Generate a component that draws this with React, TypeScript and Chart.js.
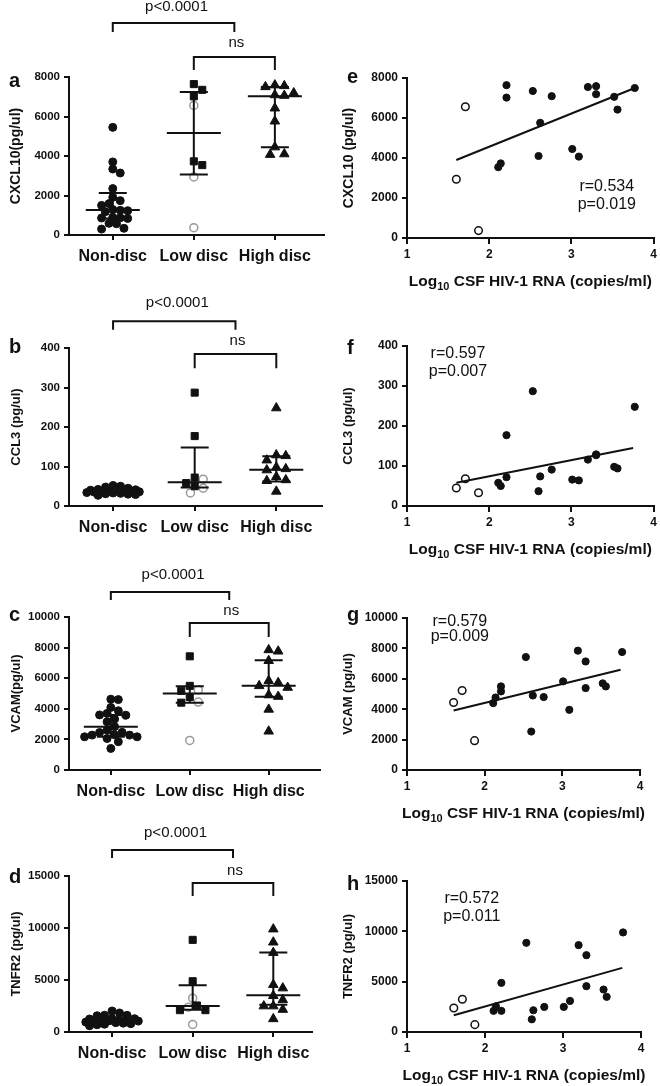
import React, { useEffect, useRef } from "react";
import { Chart, registerables } from "chart.js";
Chart.register(...registerables);

// ---------------- DATA ----------------
const categories = ["Non-disc", "Low disc", "High disc"];
const xTitleParts = ["Log", "10", " CSF HIV-1 RNA (copies/ml)"];

// CSF patients: index 0-7 low discordance, 8-18 high discordance; first 3 drawn as open circles
const csfLog10RNA = [1.60, 1.71, 1.87, 2.11, 2.14, 2.21, 2.21, 2.53, 2.60, 2.62, 2.76, 3.01, 3.09, 3.20, 3.30, 3.30, 3.52, 3.56, 3.77];
const discGroup = ["L", "L", "L", "L", "L", "L", "L", "L", "H", "H", "H", "H", "H", "H", "H", "H", "H", "H", "H"];
const openCircle = [true, true, true, false, false, false, false, false, false, false, false, false, false, false, false, false, false, false, false];

const cxcl10Disc = [2940, 6560, 370, 3540, 3730, 7640, 7020, 7350, 4100, 5760, 7090, 4450, 4070, 7550, 7590, 7190, 7060, 6420, 7500];
const ccl3Disc = [45, 68, 33, 58, 50, 177, 72, 287, 37, 74, 91, 66, 64, 116, 129, 127, 98, 94, 248];
const vcamDisc = [4440, 5230, 1930, 4400, 4770, 5500, 5170, 7430, 2530, 4900, 4800, 5830, 3960, 7850, 7140, 5390, 5700, 5500, 7760];
const tnfr2Disc = [2390, 3250, 730, 2100, 2550, 4880, 2100, 8860, 1260, 2160, 2490, 2490, 3090, 8630, 7630, 4550, 4220, 3490, 9890];

const cxcl10NonDisc = [5450, 3700, 3340, 3140, 2350, 1910, 1740, 1590, 1500, 1290, 1250, 1230, 1180, 900, 870, 860, 840, 590, 570, 340, 300];
const ccl3NonDisc = [52, 50, 48, 45, 42, 41, 40, 39, 38, 38, 37, 37, 36, 35, 34, 33, 32, 31, 30, 29, 27];
const vcamNonDisc = [4630, 4600, 4090, 3870, 3700, 3600, 3580, 3330, 3150, 2830, 2610, 2460, 2450, 2300, 2280, 2280, 2170, 2170, 2060, 1850, 1410];
const tnfr2NonDisc = [2020, 1830, 1610, 1600, 1560, 1290, 1280, 1250, 1180, 1150, 1100, 1080, 1050, 1000, 950, 900, 850, 800, 750, 700, 600];

// [median, q1, q3] for Non-disc, Low disc, High disc
const cxcl10Summary = [[1270, 830, 2130], [5170, 3060, 7240], [7020, 4440, 7490]];
const ccl3Summary = [[37, 33, 40], [60, 47, 148], [92, 62, 126]];
const vcamSummary = [[2830, 2170, 3590], [5000, 4390, 5480], [5500, 4780, 7170]];
const tnfr2Summary = [[1060, 800, 1380], [2500, 2150, 4500], [3530, 2630, 7650]];

// regression line end points [x1, x2], [y1, y2]
const cxcl10FitX = [1.6, 3.77];
const cxcl10FitY = [3900, 7500];
const ccl3FitX = [1.6, 3.75];
const ccl3FitY = [58, 145];
const vcamFitX = [1.6, 3.75];
const vcamFitY = [3910, 6590];
const tnfr2FitX = [1.6, 3.76];
const tnfr2FitY = [1660, 6370];

const statLabels = [
  ["r=0.534", "p=0.019"],
  ["r=0.597", "p=0.007"],
  ["r=0.579", "p=0.009"],
  ["r=0.572", "p=0.011"],
];
const pLabel = "p<0.0001";
const nsLabel = "ns";

// ---------------- STYLE ----------------
const FONT = "'Liberation Sans', Arial, Helvetica, sans-serif";
const INK = "#111111";
const GREY = "#9a9a9a";

type Box = { left: number; top: number; width: number; height: number };

const leftPanels = [
  {
    letter: "a", letterDy: 10, yTitle: "CXCL10(pg/ul)", titleSize: 14, nonDisc: cxcl10NonDisc, disc: cxcl10Disc,
    yMax: 8000, yStep: 2000, summary: cxcl10Summary,
    box: { left: 0, top: 0, width: 330, height: 270 }, area: { left: 69, top: 77, bottom: 235, right: 325 },
    xMin: -0.54, xMax: 2.6,
    ann: { pText: 11544, pBar: 10734, pDrop: 10278, nsText: 9721, nsBar: 9012, nsDrop: 8354, pEnd: 1.5 },
  },
  {
    letter: "b", letterDy: 5, yTitle: "CCL3 (pg/ul)", titleSize: 13, nonDisc: ccl3NonDisc, disc: ccl3Disc,
    yMax: 400, yStep: 100, summary: ccl3Summary,
    box: { left: 0, top: 290, width: 330, height: 270 }, area: { left: 69, top: 348, bottom: 506, right: 322 },
    xMin: -0.54, xMax: 2.56,
    ann: { pText: 514, pBar: 468, pDrop: 446, nsText: 418, nsBar: 385, nsDrop: 349, pEnd: 1.5 },
  },
  {
    letter: "c", letterDy: 4, yTitle: "VCAM(pg/ul)", titleSize: 13, nonDisc: vcamNonDisc, disc: vcamDisc,
    yMax: 10000, yStep: 2000, summary: vcamSummary,
    box: { left: 0, top: 560, width: 330, height: 245 }, area: { left: 69, top: 617, bottom: 770, right: 320 },
    xMin: -0.53, xMax: 2.65,
    ann: { pText: 12745, pBar: 11634, pDrop: 11111, nsText: 10392, nsBar: 9608, nsDrop: 8693, pEnd: 1.5 },
  },
  {
    letter: "d", letterDy: 7, yTitle: "TNFR2 (pg/ul)", titleSize: 13, nonDisc: tnfr2NonDisc, disc: tnfr2Disc,
    yMax: 15000, yStep: 5000, summary: tnfr2Summary,
    box: { left: 0, top: 820, width: 330, height: 266 }, area: { left: 69, top: 876, bottom: 1032, right: 312 },
    xMin: -0.534, xMax: 2.48,
    ann: { pText: 19135, pBar: 17500, pDrop: 16731, nsText: 15481, nsBar: 14327, nsDrop: 13077, pEnd: 1.5 },
  },
];

const rightPanels = [
  {
    letter: "e", letterDy: 5, yTitle: "CXCL10 (pg/ul)", titleSize: 14, values: cxcl10Disc, fitX: cxcl10FitX, fitY: cxcl10FitY,
    yMax: 8000, yStep: 2000, stats: statLabels[0], stat: { x: 3.43, r: 2550, p: 1650 },
    box: { left: 330, top: 60, width: 330, height: 240 }, area: { left: 407, top: 78, bottom: 238, right: 655 },
  },
  {
    letter: "f", letterDy: 8, yTitle: "CCL3 (pg/ul)", titleSize: 13, values: ccl3Disc, fitX: ccl3FitX, fitY: ccl3FitY,
    yMax: 400, yStep: 100, stats: statLabels[1], stat: { x: 1.62, r: 382, p: 335 },
    box: { left: 330, top: 320, width: 330, height: 245 }, area: { left: 407, top: 346, bottom: 506, right: 655 },
  },
  {
    letter: "g", letterDy: 3, yTitle: "VCAM (pg/ul)", titleSize: 13, values: vcamDisc, fitX: vcamFitX, fitY: vcamFitY,
    yMax: 10000, yStep: 2000, stats: statLabels[2], stat: { x: 1.68, r: 9737, p: 8750 },
    box: { left: 330, top: 590, width: 330, height: 235 }, area: { left: 407, top: 618, bottom: 770, right: 640 },
  },
  {
    letter: "h", letterDy: 9, yTitle: "TNFR2 (pg/ul)", titleSize: 13, values: tnfr2Disc, fitX: tnfr2FitX, fitY: tnfr2FitY,
    yMax: 15000, yStep: 5000, stats: statLabels[3], stat: { x: 1.83, r: 13212, p: 11424 },
    box: { left: 330, top: 860, width: 330, height: 226 }, area: { left: 407, top: 881, bottom: 1032, right: 641 },
  },
];

// simple beeswarm layout with a maximum half-width: returns horizontal pixel offsets
function swarmOffsets(values: number[], pxPerY: number, diam: number, maxHalf: number): number[] {
  const order = values.map((_, i) => i).sort((a, b) => values[b] - values[a]);
  const placed: { x: number; y: number }[] = [];
  const out = new Array(values.length).fill(0);
  const step = diam * 0.5;
  for (const i of order) {
    const py = values[i] * pxPerY;
    let best = 0, bestD = -1, done = false;
    for (let k = 0; k < 200; k++) {
      const cx = k === 0 ? 0 : (k % 2 ? 1 : -1) * Math.ceil(k / 2) * step;
      if (Math.abs(cx) > maxHalf) break;
      let minD = Infinity;
      for (const p of placed) minD = Math.min(minD, Math.hypot(p.x - cx, p.y - py));
      if (minD >= diam * 0.92) {
        best = cx; done = true;
        break;
      }
      if (minD > bestD) { bestD = minD; best = cx; }
    }
    void done;
    out[i] = best;
    placed.push({ x: best, y: py });
  }
  return out;
}

function axisCommon(size: number, padding: number, tickLength: number) {
  return {
    ticks: { font: { family: FONT, size, weight: "bold" as const }, color: INK, padding, autoSkip: false, maxRotation: 0 },
    grid: { display: true, drawOnChartArea: false, drawTicks: true, tickLength, tickWidth: 2, tickColor: INK, color: INK, lineWidth: 2 },
    border: { display: true, color: INK, width: 2 },
  };
}

function yAxis(p: any, size: number) {
  const c = axisCommon(size, 4, 5);
  return {
    type: "linear" as const,
    min: 0,
    max: p.yMax,
    ticks: { ...c.ticks, stepSize: p.yStep, callback: (v: any) => String(v) },
    grid: c.grid,
    border: c.border,
    title: { display: true, text: p.yTitle, color: INK, font: { family: FONT, size: p.titleSize, weight: "bold" as const }, padding: { top: p.titlePad, bottom: 0 } },
    afterFit: (s: any) => {
      s.width = p.area.left - p.box.left;
    },
  };
}

function drawLetter(ctx: CanvasRenderingContext2D, chart: any, letter: string, dy: number) {
  ctx.save();
  ctx.fillStyle = INK;
  ctx.font = `bold 20px ${FONT}`;
  ctx.textAlign = "left";
  ctx.textBaseline = "alphabetic";
  ctx.fillText(letter, chart.chartArea.left - 60, chart.chartArea.top + dy);
  ctx.restore();
}

function buildLeft(p: any) {
  const { area } = p;
  const pxX = (area.right - area.left) / (p.xMax - p.xMin);
  const pxY = (area.bottom - area.top) / p.yMax;
  const nonOff = swarmOffsets(p.nonDisc, pxY, 7.5, 27);
  const lowIdx = discGroup.map((g, i) => (g === "L" ? i : -1)).filter((i) => i >= 0);
  const highIdx = discGroup.map((g, i) => (g === "H" ? i : -1)).filter((i) => i >= 0);
  const lowOff = swarmOffsets(lowIdx.map((i) => p.disc[i]), pxY, 8.5, 24);
  const highOff = swarmOffsets(highIdx.map((i) => p.disc[i]), pxY, 9.5, 24);
  const lowPts = lowIdx.map((i, k) => ({ x: 1 + lowOff[k] / pxX, y: p.disc[i], open: openCircle[i] }));
  const highPts = highIdx.map((i, k) => ({ x: 2 + highOff[k] / pxX, y: p.disc[i] }));

  const annotate = {
    id: "annotate" + p.letter,
    afterDatasetsDraw(chart: any) {
      const ctx = chart.ctx as CanvasRenderingContext2D;
      const xs = chart.scales.x, ys = chart.scales.y;
      ctx.save();
      ctx.strokeStyle = INK;
      ctx.lineWidth = 2;
      p.summary.forEach((s: number[], k: number) => {
        const [med, q1, q3] = s;
        const cx = xs.getPixelForValue(k);
        ctx.beginPath();
        ctx.moveTo(cx, ys.getPixelForValue(q1));
        ctx.lineTo(cx, ys.getPixelForValue(q3));
        ctx.moveTo(cx - 27, ys.getPixelForValue(med));
        ctx.lineTo(cx + 27, ys.getPixelForValue(med));
        ctx.moveTo(cx - 14, ys.getPixelForValue(q1));
        ctx.lineTo(cx + 14, ys.getPixelForValue(q1));
        ctx.moveTo(cx - 14, ys.getPixelForValue(q3));
        ctx.lineTo(cx + 14, ys.getPixelForValue(q3));
        ctx.stroke();
      });
      ctx.restore();
    },
    afterDraw(chart: any) {
      const ctx = chart.ctx as CanvasRenderingContext2D;
      const xs = chart.scales.x, ys = chart.scales.y;
      const X = (v: number) => xs.getPixelForValue(v);
      const Y = (v: number) => ys.getPixelForValue(v);
      const a = p.ann;
      ctx.save();
      ctx.strokeStyle = INK;
      ctx.lineWidth = 2;
      ctx.beginPath();
      ctx.moveTo(X(0), Y(a.pDrop));
      ctx.lineTo(X(0), Y(a.pBar));
      ctx.lineTo(X(a.pEnd), Y(a.pBar));
      ctx.lineTo(X(a.pEnd), Y(a.pDrop));
      ctx.moveTo(X(1), Y(a.nsDrop));
      ctx.lineTo(X(1), Y(a.nsBar));
      ctx.lineTo(X(2), Y(a.nsBar));
      ctx.lineTo(X(2), Y(a.nsDrop));
      ctx.stroke();
      ctx.fillStyle = INK;
      ctx.font = `15px ${FONT}`;
      ctx.textAlign = "center";
      ctx.textBaseline = "middle";
      ctx.fillText(pLabel, (X(0) + X(a.pEnd)) / 2 + 3, Y(a.pText));
      ctx.fillText(nsLabel, (X(1) + X(2)) / 2 + 2, Y(a.nsText));
      ctx.restore();
      drawLetter(ctx, chart, p.letter, p.letterDy);
    },
  };

  const xc = axisCommon(16, 7, 5);
  return {
    type: "scatter" as const,
    data: {
      datasets: [
        {
          data: p.nonDisc.map((v: number, i: number) => ({ x: nonOff[i] / pxX, y: v })),
          pointStyle: "circle", pointRadius: 4, backgroundColor: INK, borderColor: INK, borderWidth: 1, clip: false,
        },
        {
          data: lowPts.filter((d) => !d.open).map((d) => ({ x: d.x, y: d.y })),
          pointStyle: "rect", pointRadius: 5, backgroundColor: INK, borderColor: INK, borderWidth: 1, clip: false,
        },
        {
          data: lowPts.filter((d) => d.open).map((d) => ({ x: d.x, y: d.y })),
          pointStyle: "circle", pointRadius: 4, backgroundColor: "#ffffff", borderColor: GREY, borderWidth: 1.5, clip: false,
        },
        {
          data: highPts,
          pointStyle: "triangle", pointRadius: 5.5, backgroundColor: INK, borderColor: INK, borderWidth: 1, clip: false,
        },
      ],
    },
    options: {
      responsive: false,
      animation: false as const,
      events: [],
      layout: { padding: { top: area.top - p.box.top, right: p.box.left + p.box.width - area.right, left: 0, bottom: 0 } },
      plugins: { legend: { display: false }, tooltip: { enabled: false } },
      scales: {
        x: {
          type: "linear" as const,
          min: p.xMin,
          max: p.xMax,
          afterBuildTicks: (s: any) => {
            s.ticks = [0, 1, 2].map((v) => ({ value: v }));
          },
          ticks: { ...xc.ticks, callback: (v: any) => categories[v as number] ?? "" },
          grid: xc.grid,
          border: xc.border,
          afterFit: (s: any) => {
            s.height = p.box.top + p.box.height - area.bottom;
          },
        },
        y: yAxis({ ...p, titlePad: p.titleSize === 14 ? 8 : 9 }, 11.5),
      },
    },
    plugins: [annotate],
  };
}

function buildRight(p: any) {
  const { area } = p;
  const pts = csfLog10RNA.map((x, i) => ({ x, y: p.values[i], open: openCircle[i] }));
  const annotate = {
    id: "annotate" + p.letter,
    afterDraw(chart: any) {
      const ctx = chart.ctx as CanvasRenderingContext2D;
      const xs = chart.scales.x, ys = chart.scales.y;
      ctx.save();
      ctx.fillStyle = INK;
      ctx.font = `16px ${FONT}`;
      ctx.textAlign = "center";
      ctx.textBaseline = "middle";
      ctx.fillText(p.stats[0], xs.getPixelForValue(p.stat.x), ys.getPixelForValue(p.stat.r));
      ctx.fillText(p.stats[1], xs.getPixelForValue(p.stat.x), ys.getPixelForValue(p.stat.p));
      // x-axis title with subscript
      const big = `bold 15.5px ${FONT}`, small = `bold 11px ${FONT}`;
      const parts: [string, string, number][] = [
        [xTitleParts[0], big, 0],
        [xTitleParts[1], small, 5],
        [xTitleParts[2], big, 0],
      ];
      ctx.textAlign = "left";
      let total = 0;
      for (const [t, f] of parts) {
        ctx.font = f;
        total += ctx.measureText(t).width;
      }
      let x = (chart.chartArea.left + chart.chartArea.right) / 2 - total / 2;
      const cy = chart.chartArea.bottom + 44;
      for (const [t, f, dy] of parts) {
        ctx.font = f;
        ctx.fillText(t, x, cy + dy);
        x += ctx.measureText(t).width;
      }
      ctx.restore();
      drawLetter(ctx, chart, p.letter, p.letterDy);
    },
  };
  const xc = axisCommon(12, 3, 6);
  return {
    type: "scatter" as const,
    data: {
      datasets: [
        {
          data: [
            { x: p.fitX[0], y: p.fitY[0] },
            { x: p.fitX[1], y: p.fitY[1] },
          ],
          showLine: true, pointRadius: 0, borderColor: INK, borderWidth: 2, clip: false,
        },
        {
          data: pts.filter((d) => !d.open).map((d) => ({ x: d.x, y: d.y })),
          pointStyle: "circle", pointRadius: 3.6, backgroundColor: INK, borderColor: INK, borderWidth: 1, clip: false,
        },
        {
          data: pts.filter((d) => d.open).map((d) => ({ x: d.x, y: d.y })),
          pointStyle: "circle", pointRadius: 3.8, backgroundColor: "#ffffff", borderColor: INK, borderWidth: 1.5, clip: false,
        },
      ],
    },
    options: {
      responsive: false,
      animation: false as const,
      events: [],
      layout: { padding: { top: area.top - p.box.top, right: p.box.left + p.box.width - area.right, left: 0, bottom: 0 } },
      plugins: { legend: { display: false }, tooltip: { enabled: false } },
      scales: {
        x: {
          type: "linear" as const,
          min: 1,
          max: 4,
          ticks: { ...xc.ticks, stepSize: 1 },
          grid: xc.grid,
          border: xc.border,
          afterFit: (s: any) => {
            s.height = p.box.top + p.box.height - area.bottom;
          },
        },
        y: yAxis({ ...p, titlePad: 11 }, 12),
      },
    },
    plugins: [annotate],
  };
}

function ChartCanvas({ box, build }: { box: Box; build: () => any }) {
  const ref = useRef<HTMLCanvasElement>(null);
  useEffect(() => {
    const chart = new Chart(ref.current as HTMLCanvasElement, build());
    return () => chart.destroy();
  }, []);
  return (
    <canvas
      ref={ref}
      width={box.width}
      height={box.height}
      style={{ position: "absolute", left: box.left, top: box.top, width: box.width, height: box.height }}
    />
  );
}

export default function App() {
  return (
    <div style={{ position: "absolute", left: 0, top: 0, width: 660, height: 1086, background: "#ffffff", overflow: "hidden" }}>
      {leftPanels.map((p) => (
        <ChartCanvas key={p.letter} box={p.box} build={() => buildLeft(p)} />
      ))}
      {rightPanels.map((p) => (
        <ChartCanvas key={p.letter} box={p.box} build={() => buildRight(p)} />
      ))}
    </div>
  );
}
